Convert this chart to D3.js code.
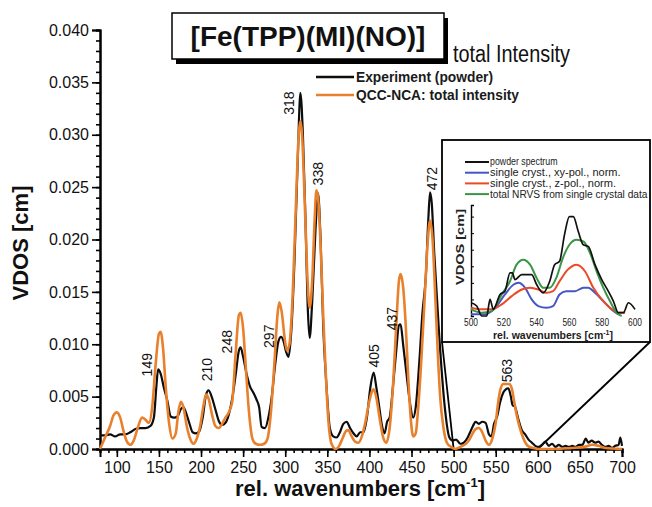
<!DOCTYPE html>
<html>
<head>
<meta charset="utf-8">
<script src="https://cdn.jsdelivr.net/npm/d3@7"></script>
<style>
  html, body { margin: 0; padding: 0; background: #fff; }
  svg { display: block; font-family: "Liberation Sans", Arial, sans-serif; }
</style>
</head>
<body>
<svg id="chart" width="652" height="507"></svg>
<script>
// Experimental powder NRVS spectrum: [wavenumber (cm-1), VDOS (cm)]
const experiment = [
  [80,0.0013],[86,0.0013],[92,0.0014],[98,0.0012],[104,0.0014],[110,0.0014],[116,0.0016],[122,0.0019],
  [128,0.0020],[134,0.0020],[140,0.0022],[144,0.0030],[147,0.0060],[149,0.0076],[152,0.0072],[156,0.0058],
  [160,0.0046],[164,0.0031],[168,0.0030],[172,0.0031],[176,0.0038],[179,0.0040],[182,0.0035],[186,0.0025],
  [190,0.0016],[194,0.0015],[198,0.0017],[202,0.0030],[206,0.0052],[209,0.0056],[213,0.0049],[217,0.0038],
  [221,0.0027],[225,0.0023],[229,0.0025],[233,0.0033],[237,0.0048],[241,0.0070],[245,0.0094],[247,0.0097],
  [250,0.0088],[254,0.0072],[258,0.0060],[262,0.0054],[266,0.0047],[269,0.0040],[272,0.0021],[276,0.0020],
  [280,0.0030],[284,0.0050],[288,0.0080],[292,0.0103],[295,0.0107],[298,0.0103],[301,0.0093],[304,0.0088],
  [307,0.0110],[311,0.0180],[315,0.0280],[318,0.0340],[321,0.0300],[324,0.0220],[327,0.0130],[329,0.0106],
  [332,0.0140],[336,0.0210],[339,0.0244],[342,0.0200],[345,0.0120],[349,0.0060],[353,0.0020],[357,0.0012],
  [361,0.0011],[365,0.0016],[369,0.0024],[373,0.0026],[377,0.0020],[381,0.0015],[385,0.0012],[389,0.0016],
  [393,0.0016],[397,0.0030],[401,0.0058],[405,0.0073],[408,0.0060],[411,0.0044],[415,0.0022],[418,0.0015],
  [421,0.0026],[424,0.0030],[428,0.0060],[432,0.0095],[435,0.0118],[437,0.0119],[440,0.0100],[444,0.0072],
  [448,0.0045],[452,0.0030],[455,0.0040],[459,0.0080],[463,0.0130],[467,0.0165],[470,0.0220],[472,0.0245],
  [474,0.0235],[477,0.0187],[483,0.0107],[489,0.0044],[495,0.0011],[499,0.0008],[503,0.0009],[508,0.0005],
  [512,0.0006],[516,0.0010],[519,0.0015],[523,0.0022],[526,0.0026],[530,0.0024],[534,0.0026],[538,0.0025],
  [542,0.0014],[545,0.0012],[548,0.0024],[552,0.0032],[555,0.0044],[559,0.0054],[562,0.0057],[565,0.0058],
  [568,0.0050],[570,0.0042],[573,0.0040],[577,0.0028],[581,0.0018],[585,0.0014],[589,0.0009],[593,0.0006],
  [597,0.0003],[601,0.0002],[605,0.0004],[609,0.0007],[613,0.0003],[617,0.0005],[621,0.0002],[625,0.0004],
  [629,0.0002],[633,0.0003],[637,0.0002],[641,0.0003],[645,0.0002],[649,0.0004],[653,0.0004],[657,0.0010],
  [660,0.0006],[664,0.0008],[668,0.0006],[672,0.0007],[676,0.0004],[680,0.0002],[684,0.0003],[688,0.0001],
  [692,0.0003],[696,0.0004],[698,0.0011],[700,0.0003]
];

// QCC-NCA simulated total intensity
const simulation = [
  [80,0.0000],[86,0.0011],[92,0.0022],[96,0.0032],[100,0.0035],[104,0.0030],[108,0.0017],[112,0.0007],
  [116,0.0004],[120,0.0008],[124,0.0018],[130,0.0030],[134,0.0028],[138,0.0025],[142,0.0040],[146,0.0080],
  [150,0.0110],[152,0.0112],[155,0.0095],[158,0.0060],[162,0.0025],[166,0.0010],[170,0.0015],[173,0.0035],
  [176,0.0045],[179,0.0040],[183,0.0022],[187,0.0010],[191,0.0005],[195,0.0010],[199,0.0022],[203,0.0042],
  [206,0.0052],[209,0.0048],[213,0.0033],[217,0.0022],[221,0.0020],[225,0.0024],[229,0.0030],[233,0.0035],
  [237,0.0045],[241,0.0090],[245,0.0128],[247,0.0130],[250,0.0115],[253,0.0080],[257,0.0035],[261,0.0010],
  [265,0.0005],[270,0.0004],[275,0.0005],[279,0.0010],[283,0.0035],[287,0.0080],[291,0.0130],[293,0.0140],
  [296,0.0130],[299,0.0108],[302,0.0094],[305,0.0100],[309,0.0150],[313,0.0240],[316,0.0300],[318,0.0313],
  [320,0.0300],[323,0.0240],[326,0.0170],[329,0.0135],[332,0.0160],[335,0.0220],[337,0.0247],[339,0.0240],
  [342,0.0195],[345,0.0130],[348,0.0075],[351,0.0030],[355,0.0005],[360,0.0000],[364,0.0003],[368,0.0010],
  [372,0.0017],[375,0.0018],[379,0.0012],[383,0.0007],[387,0.0006],[391,0.0012],[395,0.0025],[399,0.0042],
  [403,0.0055],[405,0.0057],[408,0.0050],[412,0.0030],[416,0.0012],[420,0.0006],[424,0.0020],[428,0.0060],
  [432,0.0120],[435,0.0160],[437,0.0167],[440,0.0155],[443,0.0120],[446,0.0070],[449,0.0030],[452,0.0012],
  [455,0.0015],[458,0.0040],[462,0.0090],[466,0.0150],[469,0.0195],[472,0.0218],[475,0.0200],[478,0.0150],
  [481,0.0095],[484,0.0050],[488,0.0020],[492,0.0006],[497,0.0002],[502,0.0000],[508,0.0002],[513,0.0004],
  [518,0.0008],[522,0.0014],[526,0.0019],[530,0.0020],[534,0.0016],[538,0.0008],[542,0.0004],[546,0.0010],
  [550,0.0025],[553,0.0045],[556,0.0058],[559,0.0062],[562,0.0062],[566,0.0062],[569,0.0058],[572,0.0045],
  [575,0.0032],[578,0.0022],[582,0.0012],[586,0.0005],[590,0.0002],[595,0.0001],[600,0.0000],[620,0.0000],
  [640,0.0001],[655,0.0002],[665,0.0004],[672,0.0003],[680,0.0001],[700,0.0000]
];

// Peak annotations (cm-1)
const peakLabels = [149, 210, 248, 297, 318, 338, 405, 437, 472, 563];

// Axis ticks
const xMajorTicks = [100,150,200,250,300,350,400,450,500,550,600,650,700];
const yMajorTicks = [0.000,0.005,0.010,0.015,0.020,0.025,0.030,0.035,0.040];

// Inset: 500-600 cm-1 region, powder vs single-crystal data
const insetPowder = [
  [500,0.0008],[503.5,0.0006],[506.5,0.0000],[509.6,0.0000],[511.6,0.0010],[513.6,0.0004],[517.7,0.0013],
  [520.7,0.0015],[523.8,0.0026],[525.2,0.0026],[526.8,0.0022],[530.9,0.0025],[537,0.0025],[540,0.0019],
  [544,0.0014],[548,0.0021],[551,0.0031],[554,0.0033],[557,0.0049],[560,0.0060],[562.4,0.0060],[565.4,0.0051],
  [568.5,0.0043],[571.5,0.0042],[575.6,0.0031],[579.7,0.0022],[583.7,0.0015],[586.8,0.0009],[589.8,0.0002],
  [592.9,0.0002],[596,0.0008],[600,0.0004]
];
const insetXY = [
  [500,0.0001],[508,0.0001],[514,0.0004],[520.7,0.0013],[526,0.0019],[529,0.0020],[533,0.0017],[537,0.0010],
  [541,0.0006],[546,0.0005],[550,0.0006],[554,0.0013],[558,0.0015],[563.4,0.0015],[568.5,0.0017],[571.5,0.0017],
  [575.6,0.0014],[580.7,0.0009],[585.7,0.0004],[589.8,0.0001]
];
const insetZ = [
  [500,0.0005],[506.5,0.0004],[512.6,0.0004],[518.7,0.0007],[524.8,0.0012],[531,0.0016],[536,0.0017],[541,0.0016],
  [546,0.0014],[550,0.0015],[554,0.0021],[559,0.0028],[564.4,0.0031],[569.5,0.0027],[574.6,0.0017],[579.7,0.0010],
  [584.7,0.0005],[589.8,0.0002],[594,0.0002]
];
const insetTotal = [
  [500,0.0004],[506.5,0.0002],[512.6,0.0003],[518.7,0.0013],[523.8,0.0021],[527.8,0.0031],[531.9,0.0034],
  [536,0.0031],[540,0.0023],[544,0.0017],[548,0.0017],[552,0.0023],[556,0.0035],[560,0.0043],[564.4,0.0046],
  [568.5,0.0045],[572.6,0.0038],[576.6,0.0027],[580.7,0.0017],[584.7,0.0009],[588.8,0.0002],[591.9,0.0000]
];
const insetXTicks = [500,520,540,560,580,600];

const insetSeries = [
  { name: "powder spectrum", data: insetPowder, color: "#111111" },
  { name: "single cryst., xy-pol., norm.", data: insetXY, color: "#4455c4" },
  { name: "single cryst., z-pol., norm.", data: insetZ, color: "#ec4a26" },
  { name: "total NRVS from single crystal data", data: insetTotal, color: "#3b9447" }
];

const svg = d3.select("#chart");
const ORANGE = "#e8802c";

const x = d3.scaleLinear().domain([80, 700]).range([100, 622]);
const y = d3.scaleLinear().domain([0, 0.04]).range([449, 30]);

// ---- axes ----
function styleAxis(g, fontSize) {
  g.select(".domain").attr("stroke", "#000").attr("stroke-width", 2);
  g.selectAll(".tick line").attr("stroke", "#000").attr("stroke-width", 1.6);
  g.selectAll(".tick text").attr("fill", "#111").style("font-size", fontSize + "px")
    .style("font-family", '"Liberation Sans", Arial, sans-serif');
}

const yMinor = svg.append("g").attr("transform", "translate(100,0)")
  .call(d3.axisLeft(y).tickValues(d3.range(0, 0.0405, 0.001)).tickSize(4).tickFormat(""));
styleAxis(yMinor, 16);
const yAxis = svg.append("g").attr("transform", "translate(100,0)")
  .call(d3.axisLeft(y).tickValues(yMajorTicks).tickSize(8).tickPadding(3).tickFormat(d3.format(".3f")));
styleAxis(yAxis, 16);

const xMinor = svg.append("g").attr("transform", "translate(0,449)")
  .call(d3.axisBottom(x).tickValues(d3.range(80, 701, 10)).tickSize(4).tickFormat(""));
styleAxis(xMinor, 16);
const xAxis = svg.append("g").attr("transform", "translate(0,449)")
  .call(d3.axisBottom(x).tickValues(xMajorTicks).tickSize(8).tickPadding(5).tickFormat(d3.format("d")));
styleAxis(xAxis, 16);

// axis titles
svg.append("text")
  .attr("transform", "translate(28,243) rotate(-90)")
  .attr("text-anchor", "middle")
  .style("font-size", "22px").style("font-weight", "bold").attr("fill", "#111")
  .text("VDOS [cm]");

const xt = svg.append("text")
  .attr("x", 360).attr("y", 496)
  .attr("text-anchor", "middle")
  .style("font-size", "22px").style("font-weight", "bold").attr("fill", "#111");
xt.append("tspan").text("rel. wavenumbers [cm");
xt.append("tspan").attr("dy", -9).style("font-size", "13px").text("-1");
xt.append("tspan").attr("dy", 9).text("]");

// ---- zoom connectors ----
const conn = svg.append("g").attr("stroke", "#000").attr("stroke-width", 1.8);
conn.append("line").attr("x1", x(500)).attr("y1", y(0)).attr("x2", 442).attr("y2", 342);
conn.append("line").attr("x1", x(600)).attr("y1", y(0)).attr("x2", 650).attr("y2", 342);

// ---- spectra ----
const line = d3.line().x(d => x(d[0])).y(d => y(d[1])).curve(d3.curveMonotoneX);

svg.append("path").datum(experiment)
  .attr("fill", "none").attr("stroke", "#0d0d0d").attr("stroke-width", 2.2)
  .attr("stroke-linejoin", "round").attr("d", line);
svg.append("path").datum(simulation)
  .attr("fill", "none").attr("stroke", ORANGE).attr("stroke-width", 2.6)
  .attr("stroke-linejoin", "round").attr("d", line);

// ---- peak labels (rotated) ----
const labelNudge = {149:[-11,7], 210:[-2,-9], 248:[-14,6], 297:[-14,11], 318:[-11,22],
                    338:[1,-8], 405:[0,-5], 437:[-9,6], 472:[2,-2], 563:[0,-6]};
function localMax(wn) {
  return d3.max(experiment.filter(d => Math.abs(d[0] - wn) <= 3), d => d[1]);
}
peakLabels.forEach(wn => {
  const [dx, dy] = labelNudge[wn];
  const px = x(wn) + dx + 5;
  const py = y(localMax(wn)) + dy;
  svg.append("text")
    .attr("transform", `translate(${px},${py}) rotate(-90)`)
    .style("font-size", "14px").attr("fill", "#111")
    .text(wn);
});

// ---- title box ----
svg.append("rect").attr("x", 176).attr("y", 18).attr("width", 272).attr("height", 46).attr("fill", "#000");
svg.append("rect").attr("x", 172).attr("y", 13).attr("width", 272).attr("height", 46)
  .attr("fill", "#fff").attr("stroke", "#000").attr("stroke-width", 1.5);
svg.append("text").attr("x", 308).attr("y", 46).attr("text-anchor", "middle")
  .style("font-size", "28px").style("font-weight", "bold").attr("fill", "#111")
  .text("[Fe(TPP)(MI)(NO)]");
svg.append("text").attr("x", 453).attr("y", 62)
  .style("font-size", "23px").attr("fill", "#111")
  .attr("textLength", 117).attr("lengthAdjust", "spacingAndGlyphs")
  .text("total Intensity");

// ---- main legend ----
const legend = [
  { label: "Experiment (powder)", color: "#0d0d0d", y: 77, w: 137 },
  { label: "QCC-NCA: total intensity", color: ORANGE, y: 95, w: 163 }
];
legend.forEach(l => {
  svg.append("line").attr("x1", 316).attr("x2", 354).attr("y1", l.y).attr("y2", l.y)
    .attr("stroke", l.color).attr("stroke-width", 2.6);
  svg.append("text").attr("x", 356).attr("y", l.y + 5)
    .style("font-size", "15px").style("font-weight", "bold").attr("fill", "#1a1a1a")
    .attr("textLength", l.w).attr("lengthAdjust", "spacingAndGlyphs")
    .text(l.label);
});

// ---- inset ----
const inset = svg.append("g");
inset.append("rect").attr("x", 442).attr("y", 140).attr("width", 208).attr("height", 202)
  .attr("fill", "#fff").attr("stroke", "#000").attr("stroke-width", 1.8);

const xi = d3.scaleLinear().domain([500, 600]).range([471, 635]);
const yi = d3.scaleLinear().domain([0, 0.0067]).range([316, 205]);

const yiAxis = inset.append("g").attr("transform", "translate(471,0)")
  .call(d3.axisRight(yi).tickValues(d3.range(0.001, 0.0067, 0.001)).tickSize(3).tickFormat(""));
yiAxis.select(".domain").attr("stroke", "#000").attr("stroke-width", 1.4);
yiAxis.selectAll(".tick line").attr("stroke", "#000").attr("stroke-width", 1);

inset.selectAll(".ixt").data(insetXTicks).join("text")
  .attr("x", d => xi(d)).attr("y", 326).attr("text-anchor", "middle")
  .style("font-size", "10px").attr("fill", "#222")
  .attr("textLength", 14).attr("lengthAdjust", "spacingAndGlyphs")
  .text(d => d);

const it = inset.append("text").attr("x", 553).attr("y", 338.5).attr("text-anchor", "middle")
  .style("font-size", "10.5px").style("font-weight", "bold").attr("fill", "#222");
it.append("tspan").text("rel. wavenumbers [cm");
it.append("tspan").attr("dy", -4).style("font-size", "7px").text("-1");
it.append("tspan").attr("dy", 4).text("]");

inset.append("text").attr("transform", "translate(464,247) rotate(-90)")
  .attr("text-anchor", "middle")
  .style("font-size", "11px").style("font-weight", "bold").attr("fill", "#222")
  .attr("textLength", 76).attr("lengthAdjust", "spacingAndGlyphs")
  .text("VDOS [cm]");

const iline = d3.line().x(d => xi(d[0])).y(d => yi(d[1])).curve(d3.curveMonotoneX);
// draw order: xy, z, total, powder on top
[1, 2, 3, 0].forEach(i => {
  const s = insetSeries[i];
  inset.append("path").datum(s.data)
    .attr("fill", "none").attr("stroke", s.color).attr("stroke-width", i === 0 ? 1.7 : 2)
    .attr("stroke-linejoin", "round").attr("d", iline);
});

insetSeries.forEach((s, i) => {
  const ly = 162 + i * 10.7;
  inset.append("line").attr("x1", 465).attr("x2", 489).attr("y1", ly).attr("y2", ly)
    .attr("stroke", s.color).attr("stroke-width", 2);
  inset.append("text").attr("x", 490).attr("y", ly + 3.4)
    .style("font-size", "10px").attr("fill", "#222")
    .attr("textLength", s.name.length * 4.5).attr("lengthAdjust", "spacingAndGlyphs")
    .text(s.name);
});
</script>
</body>
</html>
